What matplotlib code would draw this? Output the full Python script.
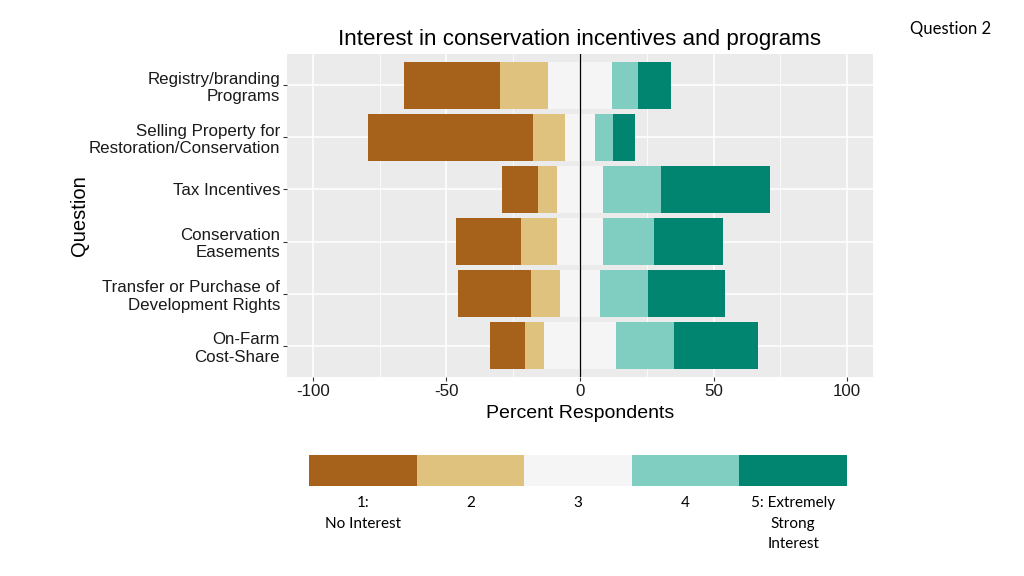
import matplotlib

matplotlib.use("Agg")
import matplotlib.pyplot as plt
import numpy as np

# question labels, top to bottom
questions = [
    "Registry/branding\nPrograms",
    "Selling Property for\nRestoration/Conservation",
    "Tax Incentives",
    "Conservation\nEasements",
    "Transfer or Purchase of\nDevelopment Rights",
    "On-Farm\nCost-Share",
]

# percent of respondents per answer level (same order as questions)
level_1 = [36.0, 61.8, 13.5, 24.3, 27.3, 13.1]
level_2 = [18.0, 12.0, 7.1, 13.5, 10.9, 7.1]
level_3 = [24.0, 11.2, 17.2, 17.2, 15.0, 27.0]
level_4 = [9.7, 6.8, 21.7, 19.1, 18.0, 21.7]
level_5 = [12.4, 8.2, 40.9, 25.9, 28.8, 31.5]

level_labels = ["1:\nNo Interest", "2", "3", "4", "5: Extremely\nStrong\nInterest"]
colors = ["#A6611A", "#DFC27D", "#F5F5F5", "#80CDC1", "#018571"]

x_ticks = [-100, -50, 0, 50, 100]

AX_FONT = ["Liberation Sans", "DejaVu Sans"]
NOTE_FONT = ["Lato", "DejaVu Sans"]

plt.rcParams["axes.unicode_minus"] = False

fig = plt.figure(figsize=(10.24, 5.76), dpi=100)
fig.patch.set_facecolor("white")

ax = fig.add_axes([287 / 1024, 1 - 377 / 576, 586 / 1024, 323 / 576])
ax.set_facecolor("#EBEBEB")

y = np.arange(len(questions), 0, -1)
l1, l2, l3, l4, l5 = (np.array(v) for v in (level_1, level_2, level_3, level_4, level_5))
half = l3 / 2

ax.barh(y, l2, left=-half - l2, height=0.9, color=colors[1], zorder=2)
ax.barh(y, l1, left=-half - l2 - l1, height=0.9, color=colors[0], zorder=2)
ax.barh(y, l3, left=-half, height=0.9, color=colors[2], zorder=2)
ax.barh(y, l4, left=half, height=0.9, color=colors[3], zorder=2)
ax.barh(y, l5, left=half + l4, height=0.9, color=colors[4], zorder=2)
ax.axvline(0, color="black", lw=0.9, zorder=3)

ax.set_xlim(-109.7, 109.7)
ax.set_ylim(0.4, len(questions) + 0.6)
ax.set_xticks(x_ticks)
ax.set_xticks([-75, -25, 25, 75], minor=True)
ax.set_yticks(y)
ax.set_yticklabels(questions)
ax.grid(which="major", color="white", lw=1.1, zorder=0)
ax.grid(which="minor", axis="x", color="white", lw=0.55, zorder=0)
ax.set_axisbelow(True)
ax.tick_params(which="major", length=3, width=0.8, color="#333333", pad=2,
               labelsize=12.2, labelcolor="#1a1a1a")
ax.tick_params(which="minor", length=0)
for lab in ax.get_xticklabels() + ax.get_yticklabels():
    lab.set_fontfamily(AX_FONT)
ax.spines[:].set_visible(False)

ax.set_xlabel("Percent Respondents", fontsize=14, family=AX_FONT, labelpad=4)
ax.set_ylabel("Question", fontsize=14.5, family=AX_FONT, labelpad=0)

fig.text(580 / 1024, 1 - 40 / 576, "Interest in conservation incentives and programs",
         ha="center", va="center", fontsize=16.1, family=AX_FONT)
fig.text(951 / 1024, 1 - 29 / 576, "Question 2", ha="center", va="center",
         fontsize=12, family=NOTE_FONT)

# colour key below the chart
leg = fig.add_axes([309 / 1024, 1 - 486 / 576, 538 / 1024, 31 / 576])
leg.bar(np.arange(len(colors)), np.ones(len(colors)), width=1.0, align="edge", color=colors)
leg.set_xlim(0, len(colors))
leg.set_ylim(0, 1)
leg.axis("off")
for i, text in enumerate(level_labels):
    fig.text((309 + 538 / 5 * (i + 0.5)) / 1024, 1 - 496 / 576, text, ha="center", va="top",
             fontsize=11, family=NOTE_FONT, linespacing=1.6)

fig.savefig("out.png", dpi=100)
